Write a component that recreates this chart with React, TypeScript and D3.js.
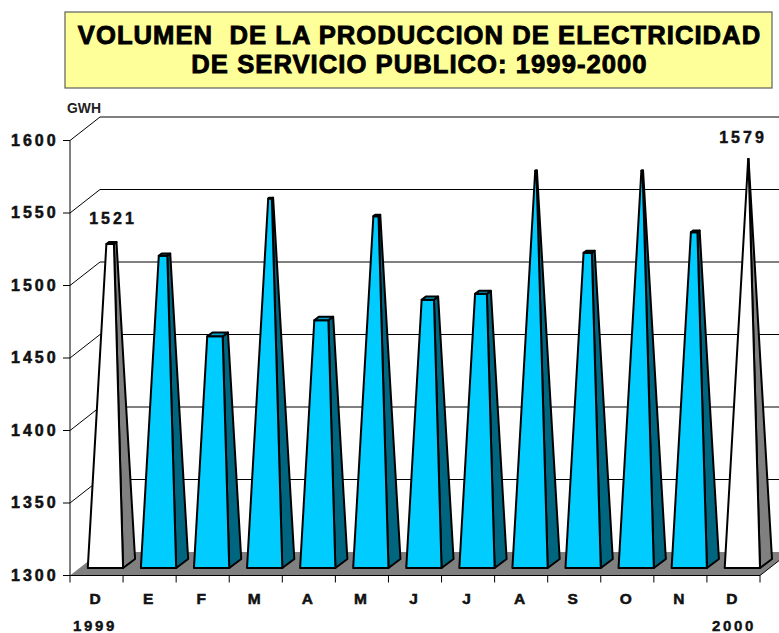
import React from "react";
import * as d3 from "d3";

const months = ["D", "E", "F", "M", "A", "M", "J", "J", "A", "S", "O", "N", "D"];
const production = [1521, 1513, 1458, 1552, 1469, 1540, 1483, 1487, 1571, 1515, 1571, 1529, 1579];
const highlighted = [0, 12];
const valueLabels = [{ i: 0, text: "1521", x: 113, y: 224 }, { i: 12, text: "1579", x: 743, y: 143 }];
const yTicks = [1300, 1350, 1400, 1450, 1500, 1550, 1600];
const titleLines = ["VOLUMEN  DE LA PRODUCCION DE ELECTRICIDAD", "DE SERVICIO PUBLICO: 1999-2000"];
const years = [{ i: 0, text: "1999", x: 95 }, { i: 12, text: "2000", x: 734 }];

const W = 779, H = 633;
const FONT = "'Liberation Sans', Arial, sans-serif";
const depthX = 30, depthY = 23.5;
const x = d3.scaleBand<number>().domain(d3.range(months.length)).range([70, 760]).paddingInner(0).paddingOuter(0);
const y = d3.scaleLinear().domain([1300, 1600]).range([575.5, 140.5]);
const pxPerUnit = y(1300) - y(1301);
const APEX = 1581;

const pts = (p: number[][]) => p.map((q) => q.join(",")).join(" ");
const heavy = (w: number) => ({ stroke: "#000", strokeWidth: w, paintOrder: "stroke" as const });

function Bar({ i, v }: { i: number; v: number }) {
  const bw = x.bandwidth();
  const l = x(i)! + bw * 0.335, r = x(i)! + bw, base = 568;
  const dx = 12, dy = 9;
  const cx = (l + r) / 2 + dx / 2;
  const cy = base - dy / 2;
  const f = Math.max(0, (APEX - v) / (APEX - 1300));
  const topY = cy - (v - 1300) * pxPerUnit;
  const at = (px: number, py: number) => [cx + (px - cx) * f, topY + (py - cy) * f];
  const fl = at(l, base), fr = at(r, base), br = at(r + dx, base - dy), bl = at(l + dx, base - dy);
  const white = highlighted.includes(i);
  const common = { stroke: "#000", strokeWidth: 2, strokeLinejoin: "round" as const };
  return (
    <g>
      <polygon points={pts([[r, base], [r + dx, base - dy], br, fr])} fill={white ? "#808080" : "#006680"} {...common} />
      <polygon points={pts([[l, base], [r, base], fr, fl])} fill={white ? "#ffffff" : "#00ccff"} {...common} />
      <polygon points={pts([fl, fr, br, bl])} fill={white ? "#ffffff" : "#00a3cc"} {...common} />
    </g>
  );
}

export default function App() {
  const [x0, x1] = x.range();
  const y0 = y(1300);
  return (
    <svg width={W} height={H} viewBox={`0 0 ${W} ${H}`} style={{ position: "absolute", left: 0, top: 0, background: "#fff" }}>
      <rect x={65} y={12} width={707} height={76} fill="#ffff99" stroke="#5f5f5f" strokeWidth={1.2} />
      {titleLines.map((t, k) => (
        <text key={k} x={419.5} y={44 + k * 28.5} textAnchor="middle" fontFamily={FONT} fontWeight="bold" fontSize={25.6} letterSpacing={1.05} style={{ whiteSpace: "pre" }} fill="#000" {...heavy(0.9)}>
          {t}
        </text>
      ))}
      <text x={67} y={113} fontFamily={FONT} fontWeight="bold" fontSize={14} fill="#222" textLength={34} lengthAdjust="spacingAndGlyphs">GWH</text>

      <polygon points={pts([[x0, y0], [x1, y0], [x1 + depthX, y0 - depthY], [x0 + depthX, y0 - depthY]])} fill="#808080" />
      {yTicks.map((t) => (
        <g key={t} stroke="#000" strokeWidth={1}>
          {t > 1300 && <line x1={x0} x2={x0 + depthX} y1={y(t)} y2={y(t) - depthY} />}
          {t > 1300 && <line x1={x0 + depthX} x2={W} y1={y(t) - depthY} y2={y(t) - depthY} />}
          <line x1={x0 - 7} x2={x0} y1={y(t)} y2={y(t)} />
        </g>
      ))}
      <line x1={x0} x2={x0} y1={y(1600)} y2={y0 + 7} stroke="#000" />
      <line x1={x0} x2={x1} y1={y0} y2={y0} stroke="#000" />
      <line x1={x1} x2={x1 + depthX} y1={y0} y2={y0 - depthY} stroke="#000" />
      {months.map((_, i) => (
        <line key={i} x1={x(i)! + x.bandwidth()} x2={x(i)! + x.bandwidth()} y1={y0} y2={y0 + 7} stroke="#000" />
      ))}
      {production.map((v, i) => <Bar key={i} i={i} v={v} />)}
      {yTicks.map((t) => (
        <text key={t} x={11} y={y(t) + 5} fontFamily={FONT} fontWeight="bold" fontSize={16} letterSpacing={3} fill="#111" {...heavy(0.5)}>{t}</text>
      ))}
      {months.map((m, i) => (
        <text key={i} x={x(i)! + x.bandwidth() / 2 - 1.5} y={604} textAnchor="middle" fontFamily={FONT} fontWeight="bold" fontSize={15.5} fill="#111" {...heavy(0.5)}>{m}</text>
      ))}
      {years.map((o) => (
        <text key={o.text} x={o.x} y={631} textAnchor="middle" fontFamily={FONT} fontWeight="bold" fontSize={15} letterSpacing={2.6} fill="#111" {...heavy(0.4)}>{o.text}</text>
      ))}
      {valueLabels.map((o) => (
        <text key={o.i} x={o.x} y={o.y} textAnchor="middle" fontFamily={FONT} fontWeight="bold" fontSize={16} letterSpacing={3} fill="#111" {...heavy(0.4)}>{o.text}</text>
      ))}
    </svg>
  );
}
